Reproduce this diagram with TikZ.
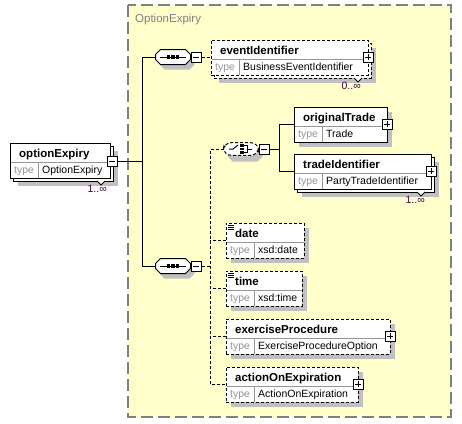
\documentclass[tikz,border=0pt]{standalone}
\usepackage{fontspec}
\setmainfont{Liberation Sans}
\usetikzlibrary{positioning,calc,shadows}
\definecolor{groupfill}{RGB}{255,255,204}
\definecolor{groupgray}{RGB}{128,128,128}
\definecolor{shadowgray}{RGB}{192,192,192}
\definecolor{typegray}{RGB}{150,150,150}
\definecolor{occurcolor}{RGB}{64,0,64}
\tikzset{
  groupbox/.style = {draw=groupgray, fill=groupfill, line width=1.3pt, dash pattern=on 12pt off 5pt},
  grouplabel/.style = {anchor=base west, inner sep=0pt, text=groupgray, font=\fontsize{11.5}{13}\selectfont},
  shadowed/.style = {drop shadow={shadow xshift=5pt, shadow yshift=-5pt, fill=shadowgray, opacity=1}},
  elembox/.style = {draw, fill=white, line width=1pt, minimum height=35pt, inner sep=0pt, outer sep=0pt},
  optional/.style = {dash pattern=on 3pt off 2pt},
  inner line/.style = {draw=typegray, line width=0.8pt, shorten <=0.5pt, shorten >=0.5pt},
  title/.style = {anchor=base west, inner sep=0pt, font=\fontsize{11.5}{13}\selectfont\bfseries},
  typelabel/.style = {anchor=base west, inner sep=0pt, text=typegray, font=\fontsize{10.5}{12}\selectfont},
  typename/.style = {anchor=base west, inner sep=0pt, font=\fontsize{10.5}{12}\selectfont},
  occur/.style = {anchor=north east, inner sep=0pt, text=occurcolor, font=\fontsize{10.5}{12}\selectfont},
  notch/.style = {draw=black, fill=white, line width=0.8pt},
  btn/.style = {draw, fill=white, line width=1pt, minimum size=10pt, inner sep=0pt},
  plusbtn/.style = {btn, path picture={
      \draw[line width=1pt] ([xshift=2pt]path picture bounding box.west) -- ([xshift=-2pt]path picture bounding box.east)
        ([yshift=-2pt]path picture bounding box.north) -- ([yshift=2pt]path picture bounding box.south);}},
  minusbtn/.style = {btn, path picture={
      \draw[line width=1pt] ([xshift=2pt]path picture bounding box.west) -- ([xshift=-2pt]path picture bounding box.east);}},
  compnode/.style = {inner sep=0pt, outer sep=0pt, minimum width=35pt, minimum height=15pt},
  compline/.style = {draw, fill=white, line width=1pt},
  conn/.style = {line width=1pt},
  optconn/.style = {line width=1pt, dash pattern=on 3pt off 2pt}
}
% #1 name, #2 border style, #3 stack offset, #4 corner, #5 width, #6 title, #7 type
\newcommand\xsdelem[7]{%
  \ifnum#3>0
    \node[elembox,#2,shadowed,minimum width=#5pt,anchor=north west] (#1-back) at ($#4+(#3,#3)$) {};
    \node[elembox,#2,minimum width=#5pt,anchor=north west] (#1) at #4 {};
  \else
    \node[elembox,#2,shadowed,minimum width=#5pt,anchor=north west] (#1) at #4 {};
  \fi
  \draw[inner line] ($(#1.north west)+(0,19)$) -- ($(#1.north east)+(0,19)$);
  \draw[inner line] ($(#1.north west)+(28,19)$) -- ($(#1.south west)+(28,0)$);
  \node[title] at ($(#1.north west)+(9,14)$) {#6};
  \node[typelabel] at ($(#1.north west)+(4,30)$) {type};
  \node[typename] at ($(#1.north west)+(32,30)$) {#7};
  \coordinate (#1-in) at ($(#1.north west)+(0,17)$);
  \coordinate (#1-btn) at ($(#1.north east)+(0,17)$);
}
% #1 name, #2 border style, #3 centre
\newcommand\xsdcomp[3]{%
  \node[compnode] (#1) at #3 {};
  \fill[shadowgray, shift={($(#1)+(4,5)$)}] (-17.5,-2.5) -- (-12.5,-7.5) -- (12.5,-7.5) -- (17.5,-2.5)
    -- (17.5,2.5) -- (12.5,7.5) -- (-12.5,7.5) -- (-17.5,2.5) -- cycle;
  \draw[compline, #2, shift={(#1)}] (-17.5,-2.5) -- (-12.5,-7.5) -- (12.5,-7.5) -- (17.5,-2.5)
    -- (17.5,2.5) -- (12.5,7.5) -- (-12.5,7.5) -- (-17.5,2.5) -- cycle;
}

\begin{document}
\begin{tikzpicture}[x=1pt,y=-1pt]
  \useasboundingbox (0,0) rectangle (462,423);
  % group
  \draw[groupbox] (128,5) rectangle (451,417);
  \node[grouplabel] (grp) at (135,22) {OptionExpiry};
  % root element
  \xsdelem{root}{}{3}{(10,143)}{100}{optionExpiry}{OptionExpiry}
  \draw[notch] ($(root-back.south east)+(-16,0)$) -- ++(4,4) -- ++(4,-4);
  \node[occur] at ($(root-back.south east)+(-6,4)$) {1..∞};
  \node[minusbtn] (rootminus) at ($(root-btn)+(2,1)$) {};
  % sequences
  \xsdcomp{seq1}{}{(173,57)}
  \node[minusbtn] (seq1minus) at (196,57) {};
  \xsdcomp{seq2}{}{(173,266)}
  \node[minusbtn] (seq2minus) at (196,266) {};
  \foreach \s in {seq1,seq2} {%
    \draw[line width=1pt] ($(\s)+(-13,0)$) -- ($(\s)+(13,0)$);
    \foreach \dx in {-4.5,0,4.5}
      \fill ($(\s)+(\dx,0)$) +(-1.8,-1.8) rectangle +(1.8,1.8);
  }
  % choice
  \xsdcomp{choice}{optional, rounded corners=3pt, yscale=0.85}{(241,149)}
  \node[minusbtn] (choiceminus) at (264,149) {};
  \draw[line width=1pt] ($(choice)+(-12,0)$) -- ++(4,0) -- ++(5,-4);
  \foreach \dy in {-3.5,0,3.5}
    \fill ($(choice)+(1,\dy)$) +(-1.6,-1.3) rectangle +(1.6,1.3);
  \draw[line width=1pt] ($(choice)+(3,-3.5)$) -- ++(3,0) -- ++(0,7) -- ++(-3,0)
    ($(choice)+(6,0)$) -- ++(5,0);
  % elements
  \xsdelem{evt}{optional}{3}{(211,40)}{157}{eventIdentifier}{BusinessEventIdentifier}
  \draw[notch] ($(evt-back.south east)+(-17,0)$) -- ++(4,4) -- ++(4,-4);
  \node[occur] at ($(evt-back.south east)+(-10,4)$) {0..∞};
  \node[plusbtn] (evtplus) at (evt-btn) {};
  \xsdelem{orig}{}{0}{(294,107)}{93}{originalTrade}{Trade}
  \node[plusbtn] (origplus) at (orig-btn) {};
  \xsdelem{trade}{}{3}{(294,154)}{137}{tradeIdentifier}{PartyTradeIdentifier}
  \draw[notch] ($(trade-back.south east)+(-17,0)$) -- ++(4,4) -- ++(4,-4);
  \node[occur] at ($(trade-back.south east)+(-9,4)$) {1..∞};
  \node[plusbtn] (tradeplus) at (trade-btn) {};
  \xsdelem{date}{optional}{0}{(226,223)}{78}{date}{xsd:date}
  \xsdelem{time}{optional}{0}{(226,271)}{76}{time}{xsd:time}
  \foreach \n in {date,time} {%
    \foreach \dy in {2,4,6}
      \draw[line width=0.8pt] ($(\n.north west)+(2,\dy)$) -- ++(6,0);
  }
  \xsdelem{exproc}{optional}{0}{(226,319)}{164}{exerciseProcedure}{ExerciseProcedureOption}
  \node[plusbtn] (exprocplus) at (exproc-btn) {};
  \xsdelem{aoe}{optional}{0}{(226,367)}{132}{actionOnExpiration}{ActionOnExpiration}
  \node[plusbtn] (aoeplus) at (aoe-btn) {};
  % connectors
  \coordinate (trunk) at (142,57);
  \draw[conn] (rootminus.east) -- (rootminus.east -| trunk);
  \draw[conn] (seq1.west) -- (seq1.west -| trunk) |- (seq2.west);
  \draw[optconn] (seq1minus.east) -- (evt-in);
  \coordinate (spine) at (210,0);
  \draw[optconn] (seq2minus.east) -- (seq2minus.east -| spine);
  \draw[optconn] (choice.west) -- (choice.west -| spine) -- (spine |- aoe-in) -- (aoe-in);
  \foreach \n in {date,time,exproc}
    \draw[optconn] (\n-in) -- (\n-in -| spine);
  \coordinate (branch) at (279,0);
  \draw[conn] (choiceminus.east) -- (choiceminus.east -| branch);
  \draw[conn] (orig-in) -- (orig-in -| branch) -- (branch |- trade-in) -- (trade-in);
\end{tikzpicture}
\end{document}
